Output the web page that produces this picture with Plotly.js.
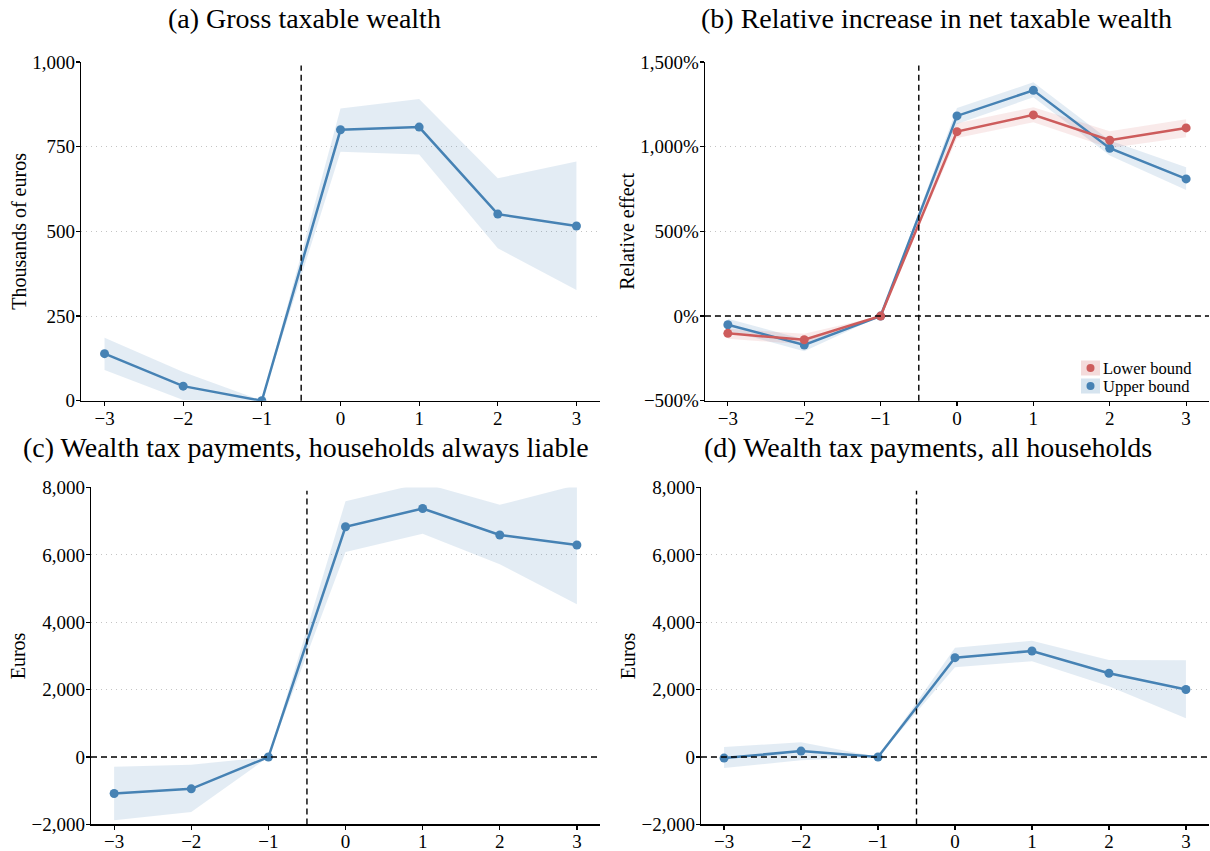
<!DOCTYPE html>
<html>
<head>
<meta charset="utf-8">
<script src="https://cdn.plot.ly/plotly-3.0.1.min.js"></script>
<style>
  html, body { margin: 0; padding: 0; background: #fff; }
  #chart { width: 1210px; height: 851px; }
</style>
</head>
<body>
<div id="chart"></div>
<script>
// ---- Data ----
const years = [-3, -2, -1, 0, 1, 2, 3];

// (a) Gross taxable wealth, thousands of euros
const grossMean = [139, 43, 0, 800, 808, 551, 516];
const grossLow  = [91, 2, 0, 735, 727, 450, 327];
const grossHigh = [186, 85, 0, 863, 891, 657, 706];

// (b) Relative increase in net taxable wealth, percent
const relLowerMean = [-102, -140, 0, 1089, 1188, 1038, 1111];
const relLowerLow  = [-134, -167, 0, 1052, 1144, 993, 1056];
const relLowerHigh = [-75, -104, 0, 1138, 1233, 1091, 1162];
const relUpperMean = [-51, -171, 0, 1182, 1333, 991, 810];
const relUpperLow  = [-85, -208, 0, 1134, 1292, 948, 745];
const relUpperHigh = [-16, -138, 0, 1229, 1380, 1036, 879];

// (c) Wealth tax payments, households always liable, euros
const liableMean = [-1082, -944, 0, 6834, 7375, 6588, 6293];
const liableLow  = [-1878, -1632, 0, 6087, 6627, 5723, 4533];
const liableHigh = [-285, -226, 0, 7591, 8132, 7483, 8073];

// (d) Wealth tax payments, all households, euros
const allMean = [-30, 177, 0, 2950, 3147, 2488, 2006];
const allLow  = [-324, -98, 0, 2665, 2842, 2104, 1150];
const allHigh = [295, 442, 0, 3245, 3451, 2881, 2871];

const panelTitles = [
  "(a) Gross taxable wealth",
  "(b) Relative increase in net taxable wealth",
  "(c) Wealth tax payments, households always liable",
  "(d) Wealth tax payments, all households"
];
const yTitles = ["Thousands of euros", "Relative effect", "Euros", "Euros"];
const legendNames = ["Lower bound", "Upper bound"];
const eventLine = -0.5;

// ---- Styling ----
const W = 1210, H = 851;
const FONT = "Liberation Serif, Times New Roman, serif";
const BLUE = "#4682b4";
const RED = "#cd5c5c";
const BLUE_BAND = "rgba(70,130,180,0.15)";
const RED_BAND = "rgba(205,92,92,0.13)";
const legendColors = [RED, BLUE];
const legendBands = ["rgba(205,92,92,0.22)", "rgba(70,130,180,0.22)"];

function band(xa, ya, lo, hi, color) {
  return [
    {x: years, y: lo, xaxis: xa, yaxis: ya, mode: "lines", line: {width: 0, color: color},
     hoverinfo: "skip", showlegend: false},
    {x: years, y: hi, xaxis: xa, yaxis: ya, mode: "lines", line: {width: 0, color: color},
     fill: "tonexty", fillcolor: color, hoverinfo: "skip", showlegend: false}
  ];
}
function line(xa, ya, y, color) {
  return {x: years, y: y, xaxis: xa, yaxis: ya, mode: "lines",
          line: {color: color, width: 2.5}, showlegend: false};
}
function dots(xa, ya, y, color, name) {
  return {x: years, y: y, xaxis: xa, yaxis: ya, mode: "markers", name: name,
          marker: {color: color, size: 9}, showlegend: false};
}

const traces = [].concat(
  band("x", "y", grossLow, grossHigh, BLUE_BAND),
  [line("x", "y", grossMean, BLUE), dots("x", "y", grossMean, BLUE, panelTitles[0])],

  band("x2", "y2", relUpperLow, relUpperHigh, BLUE_BAND),
  band("x2", "y2", relLowerLow, relLowerHigh, RED_BAND),
  [line("x2", "y2", relUpperMean, BLUE), line("x2", "y2", relLowerMean, RED),
   dots("x2", "y2", relUpperMean, BLUE, legendNames[1]),
   dots("x2", "y2", relLowerMean, RED, legendNames[0])],

  band("x3", "y3", liableLow, liableHigh, BLUE_BAND),
  [line("x3", "y3", liableMean, BLUE), dots("x3", "y3", liableMean, BLUE, panelTitles[2])],

  band("x4", "y4", allLow, allHigh, BLUE_BAND),
  [line("x4", "y4", allMean, BLUE), dots("x4", "y4", allMean, BLUE, panelTitles[3])]
);

function xax(domain, anchor) {
  return {domain: domain, anchor: anchor, range: [-3.3, 3.3], dtick: 1, tick0: 0,
          showgrid: false, zeroline: false, showline: true, linecolor: "#000", linewidth: 1.2,
          ticks: "outside", ticklen: 4, tickwidth: 1.2, tickcolor: "#000",
          ticklabelstandoff: -4,
          tickfont: {family: FONT, size: 19, color: "#000"}, fixedrange: true};
}
function yax(domain, anchor, range, dtick, title, suffix, standoff) {
  return {domain: domain, anchor: anchor, range: range, dtick: dtick, tick0: 0,
          tickformat: ",", ticksuffix: suffix || "",
          showgrid: true, gridcolor: "#c4c4c4", gridwidth: 1, griddash: "1.5px,3.5px",
          zeroline: false, showline: true, linecolor: "#000", linewidth: 1.2,
          ticks: "outside", ticklen: 4, tickwidth: 1.2, tickcolor: "#000",
          ticklabelstandoff: -3,
          tickfont: {family: FONT, size: 19, color: "#000"},
          title: {text: title, font: {family: FONT, size: 20, color: "#000"}, standoff: standoff},
          fixedrange: true};
}

const topRow = [0.5291, 0.9271], bottomRow = [0.0312, 0.4272];
const layout = {
  width: W, height: H,
  margin: {l: 0, r: 0, t: 0, b: 0},
  paper_bgcolor: "#fff", plot_bgcolor: "#fff",
  font: {family: FONT, color: "#000"},
  showlegend: false,
  xaxis:  xax([0.0669, 0.4959], "y"),
  yaxis:  yax(topRow, "x", [0, 1000], 250, yTitles[0], "", 0),
  xaxis2: xax([0.5826, 0.9992], "y2"),
  yaxis2: yax(topRow, "x2", [-500, 1500], 500, yTitles[1], "%", 0),
  xaxis3: xax([0.0752, 0.4959], "y3"),
  yaxis3: yax(bottomRow, "x3", [-2000, 8000], 2000, yTitles[2], "", 0),
  xaxis4: xax([0.5793, 0.9992], "y4"),
  yaxis4: yax(bottomRow, "x4", [-2000, 8000], 2000, yTitles[3], "", 0),
  shapes: [],
  annotations: []
};

// Reference dashed lines: event at -0.5 and zero lines
const dashStyle = {color: "#000", width: 1.4, dash: "6px,4px"};
["", "2", "3", "4"].forEach(function (s, i) {
  layout.shapes.push({type: "line", xref: "x" + s, yref: "y" + s + " domain",
                      x0: eventLine, x1: eventLine, y0: 0, y1: 0.99, line: dashStyle, layer: "above"});
  if (i > 0) {
    layout.shapes.push({type: "line", xref: "x" + s + " domain", yref: "y" + s,
                        x0: 0, x1: 1, y0: 0, y1: 0, line: dashStyle, layer: "above"});
  }
});

// Panel titles
const titlePos = [[0.252, 0.9788], [0.774, 0.9788], [0.253, 0.4736], [0.767, 0.4736]];
panelTitles.forEach(function (t, i) {
  layout.annotations.push({text: t, xref: "paper", yref: "paper",
    x: titlePos[i][0], y: titlePos[i][1], xanchor: "center", yanchor: "middle",
    showarrow: false, font: {family: FONT, size: 28, color: "#000"}});
});

// Legend for panel (b): compact key (shaded square + dot) with label
const legendLeft = 1081, legendTop = 359, keyW = 19, keyH = 18;
legendNames.forEach(function (name, i) {
  const top = legendTop + i * keyH, cx = legendLeft + keyW / 2, cy = top + keyH / 2;
  layout.shapes.push({type: "rect", xref: "paper", yref: "paper", layer: "above",
    x0: legendLeft / W, x1: (legendLeft + keyW) / W, y0: 1 - (top + keyH - 1.5) / H, y1: 1 - (top + 1.5) / H,
    fillcolor: legendBands[i], line: {width: 0}});
  layout.shapes.push({type: "circle", xref: "paper", yref: "paper", layer: "above",
    x0: (cx - 4) / W, x1: (cx + 4) / W, y0: 1 - (cy + 4) / H, y1: 1 - (cy - 4) / H,
    fillcolor: legendColors[i], line: {width: 0}});
  layout.annotations.push({text: name, xref: "paper", yref: "paper",
    x: (legendLeft + keyW + 2) / W, y: 1 - cy / H, xanchor: "left", yanchor: "middle",
    showarrow: false, borderpad: 0, font: {family: FONT, size: 16.5, color: "#000"}});
});

Plotly.newPlot("chart", traces, layout, {displayModeBar: false, staticPlot: true});
</script>
</body>
</html>
